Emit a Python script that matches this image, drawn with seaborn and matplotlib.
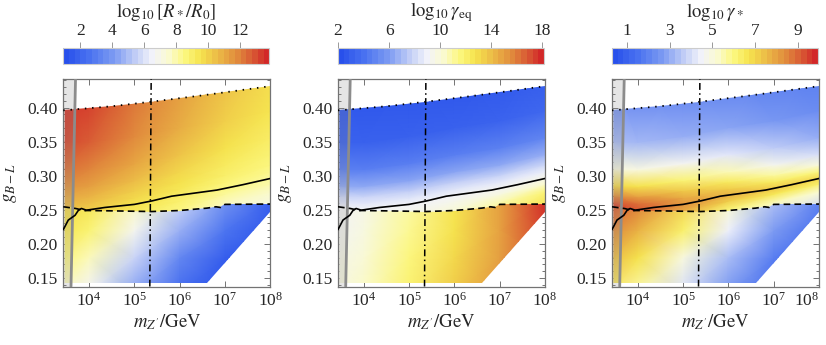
import numpy as np
import matplotlib
matplotlib.use("Agg")
import matplotlib.pyplot as plt
import seaborn as sns
from matplotlib.colors import LinearSegmentedColormap, Normalize
from matplotlib.cm import ScalarMappable
from matplotlib.patches import Polygon
from matplotlib.ticker import MultipleLocator, LogLocator, NullFormatter, FixedLocator

x_nodes = [3.47, 4.0, 5.0, 6.0, 7.0, 8.0]
# upper part (above dashed line): rows are offsets from the ridge (solid line)
ridge_g = [0.250, 0.2495, 0.258, 0.271, 0.281, 0.296]
upper_dg = [-0.045, -0.02, -0.008, 0.0, 0.01, 0.02, 0.035, 0.06, 0.10, 0.20]
# lower part (below dashed line): plain g rows
lower_g = [0.13, 0.18, 0.22, 0.265]

# log10[R*/R0]
R_upper = [
    [9.5, 9.3, 8.6, 8.0, 7.0, 6.9],
    [9.8, 9.6, 9.1, 8.6, 7.8, 7.6],
    [10.2, 9.9, 9.4, 8.9, 8.2, 8.0],
    [10.45, 10.15, 9.55, 9.1, 8.5, 8.2],
    [10.8, 10.5, 9.85, 9.4, 8.75, 8.4],
    [11.15, 10.85, 10.15, 9.6, 9.0, 8.6],
    [11.7, 11.35, 10.6, 9.9, 9.2, 8.8],
    [12.4, 12.0, 11.2, 10.4, 9.6, 9.1],
    [13.2, 12.8, 11.9, 11.0, 10.1, 9.5],
    [13.9, 13.7, 12.6, 11.7, 10.8, 10.0],
]
R_lower = [
    [7.5, 6.5, 4.3, 2.2, 1.0, 0.9],
    [8.6, 7.8, 5.6, 3.3, 1.6, 1.0],
    [9.4, 8.8, 6.8, 4.6, 2.6, 1.2],
    [10.0, 9.6, 7.8, 5.8, 3.8, 1.8],
]

# log10 gamma_eq
Geq_upper = [
    [9.8, 9.8, 10.2, 11.0, 12.0, 13.0],
    [9.5, 9.5, 9.6, 10.0, 10.8, 11.8],
    [9.3, 9.3, 9.3, 9.4, 9.8, 10.3],
    [9.1, 9.1, 9.0, 9.0, 9.2, 9.5],
    [8.5, 8.5, 8.4, 8.4, 8.5, 8.7],
    [7.8, 7.8, 7.6, 7.6, 7.7, 7.9],
    [6.3, 6.3, 6.2, 6.2, 6.3, 6.5],
    [4.5, 4.5, 4.5, 4.5, 4.6, 4.8],
    [3.0, 3.0, 3.0, 3.0, 3.1, 3.3],
    [2.0, 2.0, 2.0, 2.0, 2.1, 2.2],
]
Geq_lower = [
    [9.8, 10.4, 12.0, 13.6, 15.3, 17.3],
    [9.5, 10.1, 11.6, 13.2, 15.1, 17.4],
    [9.2, 9.8, 11.2, 12.9, 15.0, 17.7],
    [9.0, 9.5, 10.9, 12.7, 15.0, 18.0],
]

# log10 gamma_*
Gst_upper = [
    [8.0, 7.5, 6.0, 5.0, 4.3, 3.8],
    [9.0, 8.6, 7.3, 6.2, 5.5, 5.2],
    [9.5, 9.1, 8.0, 7.2, 6.6, 6.3],
    [9.7, 9.3, 8.3, 7.8, 7.3, 7.0],
    [9.3, 8.9, 7.9, 7.2, 6.5, 6.0],
    [8.5, 8.1, 7.3, 6.5, 5.7, 5.0],
    [7.0, 6.8, 6.2, 5.5, 4.7, 4.0],
    [5.0, 4.9, 4.6, 4.2, 3.6, 3.0],
    [3.3, 3.2, 3.0, 2.8, 2.5, 2.2],
    [1.4, 1.4, 1.4, 1.4, 1.4, 1.5],
]
Gst_lower = [
    [6.3, 5.6, 4.0, 2.5, 1.2, 0.5],
    [7.5, 6.8, 5.0, 3.3, 1.8, 0.8],
    [8.5, 7.8, 6.3, 4.4, 2.6, 1.3],
    [9.4, 8.8, 7.2, 5.3, 3.4, 2.0],
]

# ---- curves ----
solid_logm = [3.43, 3.54, 3.69, 3.76, 3.83, 3.94, 4.35, 5.0, 5.38, 5.82, 6.82, 7.4, 8.0]
solid_g = [0.221, 0.235, 0.242, 0.249, 0.252, 0.2495, 0.2535, 0.258, 0.263, 0.270, 0.279, 0.287, 0.296]
dashed_logm = [3.43, 3.7, 3.8, 3.88, 3.95, 4.5, 5.38, 6.0, 6.6, 6.8, 6.9, 7.0, 8.0]
dashed_g = [0.2545, 0.252, 0.2505, 0.2485, 0.249, 0.2485, 0.2475, 0.249, 0.2525, 0.2545, 0.2535, 0.258, 0.2585]
top_logm = [3.43, 4.5, 5.35, 6.5, 8.0]
top_g = [0.396, 0.402, 0.4085, 0.418, 0.4315]
cut_logm = [8.0, 6.6]
cut_g = [0.247, 0.142]
region_bottom = 0.142
dashdot_logm = [5.34, 5.37]
dashdot_g = [0.1375, 0.442]
wall_logm = [3.60, 3.70]
wall_g = [0.1375, 0.442]

xlim_log = (3.43, 8.0)
ylim = (0.1375, 0.442)

titles = [r"$\log_{10}[R_*/R_0]$", r"$\log_{10}\gamma_{\rm eq}$", r"$\log_{10}\gamma_*$"]
vranges = [(0.95, 13.8), (2.0, 18.13), (0.3, 9.95)]
cbar_ticks = [[2, 4, 6, 8, 10, 12], [2, 6, 10, 14, 18], [1, 3, 5, 7, 9]]
uppers = [R_upper, Geq_upper, Gst_upper]
lowers = [R_lower, Geq_lower, Gst_lower]

sns.set_style("ticks")
plt.rcParams["font.family"] = "serif"
plt.rcParams["font.serif"] = ["Liberation Serif", "DejaVu Serif"]
plt.rcParams["mathtext.fontset"] = "stix"

cmap = LinearSegmentedColormap.from_list("bwyr", [
    (0.00, (40/255, 80/255, 235/255)),
    (0.12, (75/255, 115/255, 240/255)),
    (0.24, (125/255, 155/255, 242/255)),
    (0.34, (190/255, 203/255, 246/255)),
    (0.43, (242/255, 243/255, 250/255)),
    (0.51, (250/255, 250/255, 210/255)),
    (0.59, (252/255, 248/255, 130/255)),
    (0.67, (246/255, 228/255, 78/255)),
    (0.76, (235/255, 185/255, 70/255)),
    (0.86, (224/255, 135/255, 60/255)),
    (0.93, (216/255, 90/255, 52/255)),
    (1.00, (210/255, 40/255, 40/255)),
])

W, H = 826, 345
fig = plt.figure(figsize=(W / 100, H / 100), dpi=100)
ax_left = [63.3, 338.0, 612.0]
ax_w, ax_top, ax_bot = 207.0, 79.0, 286.5
cb_top, cb_bot = 47.5, 63.5

xn = 10 ** np.array(x_nodes)
frame_col = "0.45"

for i in range(3):
    ax = fig.add_axes([ax_left[i] / W, 1 - ax_bot / H, ax_w / W, (ax_bot - ax_top) / H])
    vmin, vmax = vranges[i]
    norm = Normalize(vmin, vmax)

    # upper field (curvilinear rows following the ridge)
    Xu = np.tile(xn, (len(upper_dg), 1))
    Yu = np.array(ridge_g)[None, :] + np.array(upper_dg)[:, None]
    mu = ax.pcolormesh(Xu, Yu, np.array(uppers[i]), shading="gouraud", cmap=cmap, norm=norm, zorder=1)
    up_poly = list(zip(10 ** np.array(dashed_logm), dashed_g))
    up_poly += [(10 ** 8.0, top_g[-1])]
    up_poly += list(zip(10 ** np.array(top_logm[::-1]), top_g[::-1]))
    clip_u = Polygon(up_poly, closed=True, transform=ax.transData)
    mu.set_clip_path(clip_u)

    # lower field
    Xl = np.tile(xn, (len(lower_g), 1))
    Yl = np.tile(np.array(lower_g)[:, None], (1, len(x_nodes)))
    ml = ax.pcolormesh(Xl, Yl, np.array(lowers[i]), shading="gouraud", cmap=cmap, norm=norm, zorder=1)
    lo_poly = list(zip(10 ** np.array(dashed_logm), dashed_g))
    lo_poly += list(zip(10 ** np.array(cut_logm), cut_g))
    lo_poly += [(10 ** xlim_log[0], region_bottom)]
    clip_l = Polygon(lo_poly, closed=True, transform=ax.transData)
    ml.set_clip_path(clip_l)

    # excluded strip on the left
    ax.fill_betweenx(wall_g, 10 ** xlim_log[0], 10 ** np.array(wall_logm),
                     color="0.55", alpha=0.22, lw=0, zorder=2)
    sns.lineplot(x=10 ** np.array(wall_logm), y=wall_g, ax=ax, color="0.55", lw=2.0,
                 sort=False, estimator=None, zorder=3)

    sns.lineplot(x=10 ** np.array(top_logm), y=top_g, ax=ax, color="k", lw=1.3,
                 linestyle=(0, (0.8, 3.2)), sort=False, estimator=None, zorder=4)
    sns.lineplot(x=10 ** np.array(dashdot_logm), y=dashdot_g, ax=ax, color="k", lw=1.1,
                 linestyle=(0, (4.5, 2.2, 1.0, 2.2)), sort=False, estimator=None, zorder=4)
    sns.lineplot(x=10 ** np.array(dashed_logm), y=dashed_g, ax=ax, color="k", lw=1.2,
                 linestyle=(0, (4.0, 2.5)), sort=False, estimator=None, zorder=4)
    sns.lineplot(x=10 ** np.array(solid_logm), y=solid_g, ax=ax, color="k", lw=1.2,
                 sort=False, estimator=None, zorder=5)

    ax.set_xscale("log")
    ax.set_xlim(10 ** xlim_log[0], 10 ** xlim_log[1])
    ax.set_ylim(*ylim)
    ax.xaxis.set_major_locator(FixedLocator([1e4, 1e5, 1e6, 1e7, 1e8]))
    ax.xaxis.set_minor_locator(LogLocator(base=10, subs=np.arange(2, 10)))
    ax.xaxis.set_minor_formatter(NullFormatter())
    ax.yaxis.set_major_locator(MultipleLocator(0.05))
    ax.yaxis.set_minor_locator(MultipleLocator(0.01))
    ax.yaxis.set_major_formatter(plt.FuncFormatter(lambda v, p: f"{v:.2f}"))
    ax.tick_params(which="both", direction="in", top=True, right=True, color=frame_col,
                   labelsize=12.5, width=0.7)
    ax.tick_params(which="major", length=4.5, pad=4)
    ax.tick_params(which="minor", length=2.2)
    for s in ax.spines.values():
        s.set_color(frame_col)
        s.set_linewidth(0.9)
    ax.set_xlabel(r"$m_{Z'}/\mathrm{GeV}$", fontsize=13.5, labelpad=2)
    ax.set_ylabel(r"$g_{B-L}$", fontsize=13.5, labelpad=6)
    if i == 2:
        # last label pulled inside the figure, as in the original
        ax.xaxis.get_major_ticks()[-1].label1.set_horizontalalignment("right")

    # colorbar on top
    cax = fig.add_axes([ax_left[i] / W, 1 - cb_bot / H, 206.0 / W, (cb_bot - cb_top) / H])
    sm = ScalarMappable(norm=norm, cmap=cmap.resampled(36))
    cb = fig.colorbar(sm, cax=cax, orientation="horizontal", ticks=cbar_ticks[i])
    cax.xaxis.set_ticks_position("top")
    cax.xaxis.set_label_position("top")
    cax.tick_params(direction="out", length=4, width=0.7, color="0.6", labelsize=12.5, pad=2)
    cb.outline.set_edgecolor("0.8")
    cb.outline.set_linewidth(0.8)
    fig.text((ax_left[i] + 103) / W, 1 - 12.0 / H, titles[i], ha="center", va="center", fontsize=13.5)

fig.savefig("out.png", dpi=100)
